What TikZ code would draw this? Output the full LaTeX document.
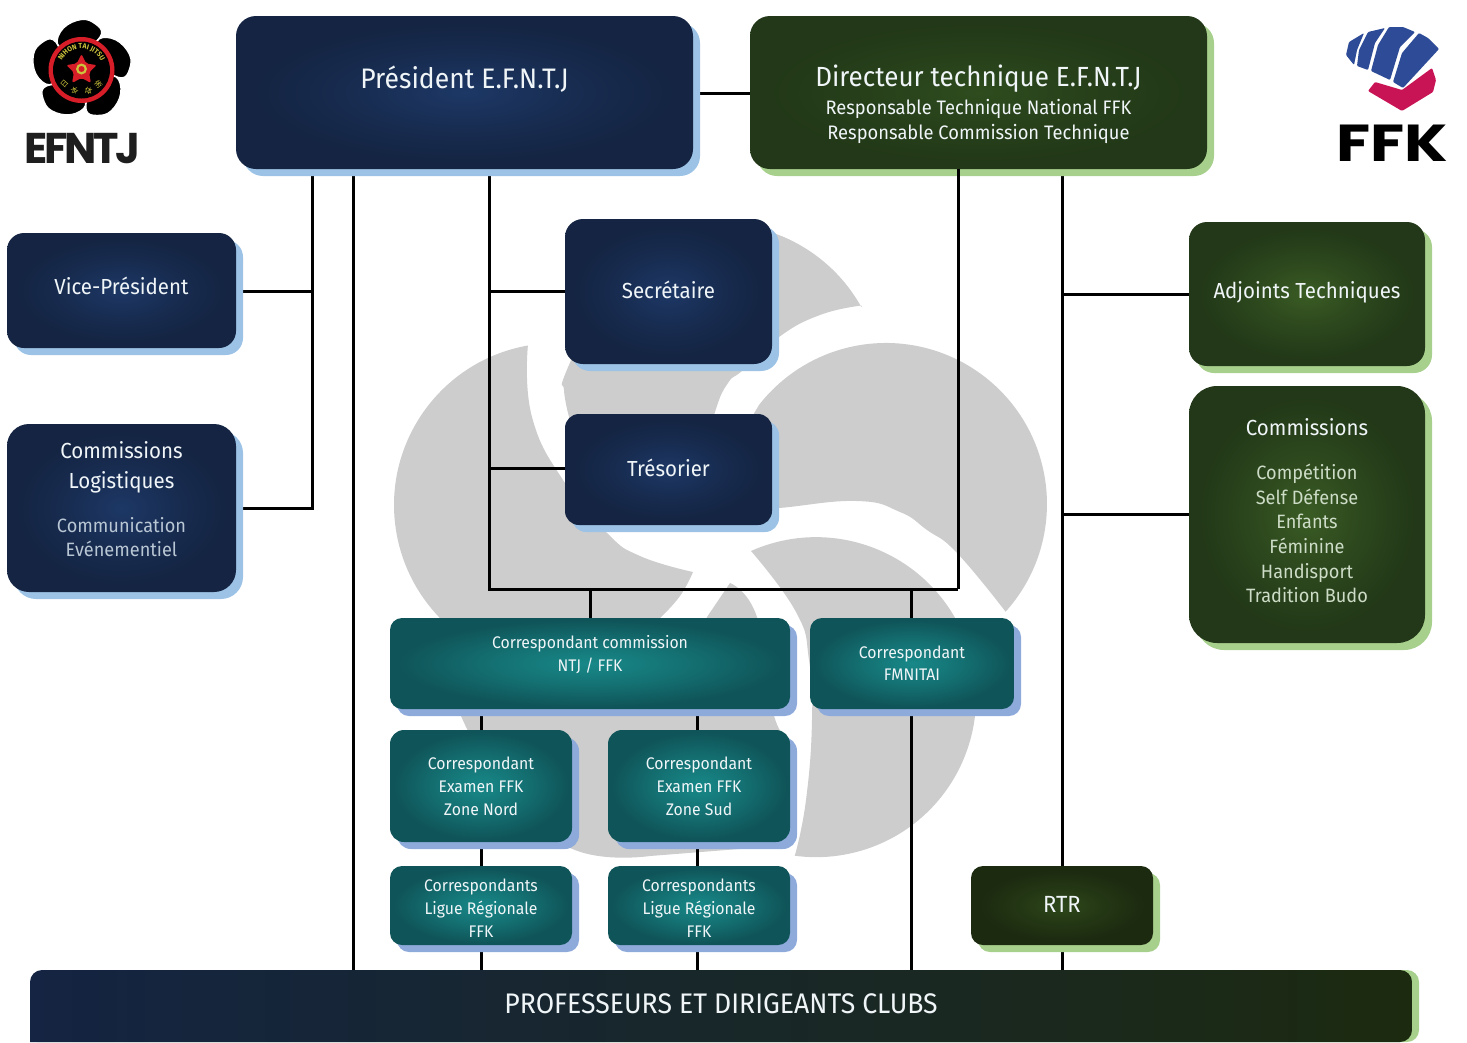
\documentclass[tikz,border=0pt]{standalone}
\usepackage{fontspec}
\setmainfont[FakeStretch=0.94]{Fira Sans}
\newfontfamily\logofont[LetterSpace=-8]{Poppins}
\newfontfamily\logobold{Poppins}
\newfontfamily\cjkfont{Noto Sans CJK SC}
\usetikzlibrary{decorations.text}
\pgfdeclarelayer{bg}
\pgfsetlayers{bg,main}
\definecolor{wm}{RGB}{205,205,205}
\definecolor{navyO}{RGB}{20,36,66}\definecolor{navyI}{RGB}{29,56,102}\definecolor{navyS}{RGB}{156,195,230}
\definecolor{greenO}{RGB}{34,56,24}\definecolor{greenI}{RGB}{58,92,36}\definecolor{greenS}{RGB}{168,208,141}
\definecolor{dirI}{RGB}{46,76,30}
\definecolor{tealO}{RGB}{15,84,88}\definecolor{tealI}{RGB}{24,136,136}\definecolor{tealS}{RGB}{142,170,219}
\definecolor{rtrO}{RGB}{28,42,16}\definecolor{rtrI}{RGB}{46,72,26}
\definecolor{txtW}{RGB}{240,245,248}
\definecolor{subN}{RGB}{185,198,212}\definecolor{subG}{RGB}{205,220,198}
\definecolor{gold}{RGB}{205,195,60}\definecolor{logored}{RGB}{215,30,40}
\definecolor{fistblue}{RGB}{45,75,150}\definecolor{fistred}{RGB}{200,20,85}
\newcommand{\fs}[2]{\fontsize{#1pt}{#2pt}\selectfont}
\colorlet{navyM}{navyI!45!navyO}
\colorlet{greenM}{greenI!45!greenO}
\colorlet{dirM}{dirI!45!greenO}
\colorlet{tealM}{tealI!55!tealO}
\colorlet{rtrM}{rtrI!45!rtrO}
\pgfdeclareradialshading{navysh}{\pgfpoint{0bp}{0bp}}{color(0bp)=(navyI); color(11bp)=(navyM); color(23bp)=(navyO); color(50bp)=(navyO)}
\pgfdeclareradialshading{greensh}{\pgfpoint{0bp}{0bp}}{color(0bp)=(greenI); color(11bp)=(greenM); color(23bp)=(greenO); color(50bp)=(greenO)}
\pgfdeclareradialshading{dirsh}{\pgfpoint{0bp}{0bp}}{color(0bp)=(dirI); color(11bp)=(dirM); color(23bp)=(greenO); color(50bp)=(greenO)}
\pgfdeclareradialshading{tealsh}{\pgfpoint{0bp}{0bp}}{color(0bp)=(tealI); color(12bp)=(tealM); color(24bp)=(tealO); color(50bp)=(tealO)}
\pgfdeclareradialshading{rtrsh}{\pgfpoint{0bp}{0bp}}{color(0bp)=(rtrI); color(11bp)=(rtrM); color(23bp)=(rtrO); color(50bp)=(rtrO)}
\tikzset{
  navybox/.style={shading=navysh},
  greenbox/.style={shading=greensh},
  dirbox/.style={shading=dirsh},
  tealbox/.style={shading=tealsh},
  rtrbox/.style={shading=rtrsh},
  lab/.style={text=txtW,align=center,inner sep=0pt},
  conn/.style={draw=black,line width=3pt,line join=miter},
  wmf/.style={fill=wm},
  sm/.style={smooth,tension=.8},
}
% name x0 y0 x1 y1 radius style shadowcolour
\newcommand{\bx}[8]{%
  \fill[#8,rounded corners=#6pt] ({#2+7},{#3+7}) rectangle ({#4+7},{#5+7});
  \pgfmathsetmacro\bw{#4-#2}\pgfmathsetmacro\bh{#5-#3}
  \node[#7,rectangle,rounded corners=#6pt,inner sep=0pt,outer sep=0pt,minimum width=\bw pt,minimum height=\bh pt] (#1) at ({(#2+#4)/2},{(#3+#5)/2}) {};
}
\begin{document}
\begin{tikzpicture}[x=1pt,y=-1pt]
\useasboundingbox (0,0) rectangle (1467,1042);

% boxes
\bx{pres}{236}{16}{693}{169}{20}{navybox}{navyS}
\bx{dir}{750}{16}{1207}{169}{20}{dirbox}{greenS}
\bx{vice}{7}{233}{236}{348}{17}{navybox}{navyS}
\bx{clog}{7}{424}{236}{592}{22}{navybox}{navyS}
\bx{sec}{565}{219}{772}{364}{18}{navybox}{navyS}
\bx{tre}{565}{414}{772}{525}{14}{navybox}{navyS}
\bx{adj}{1189}{222}{1425}{366}{18}{greenbox}{greenS}
\bx{com}{1189}{386}{1425}{643}{28}{greenbox}{greenS}
\bx{ntj}{390}{618}{790}{709}{12}{tealbox}{tealS}
\bx{fmn}{810}{618}{1014}{709}{12}{tealbox}{tealS}
\bx{nord}{390}{730}{572}{842}{14}{tealbox}{tealS}
\bx{sud}{608}{730}{790}{842}{14}{tealbox}{tealS}
\bx{lign}{390}{866}{572}{945}{12}{tealbox}{tealS}
\bx{ligs}{608}{866}{790}{945}{12}{tealbox}{tealS}
\bx{rtr}{971}{866}{1153}{945}{12}{rtrbox}{greenS}

% bottom bar
\fill[greenS,rounded corners=12pt] (37,1042) -- (37,970) -- (1419,970) -- (1419,1042) [sharp corners] -- cycle;
\shade[left color=navyO,right color=rtrO,rounded corners=12pt] (30,1042) -- (30,970) -- (1412,970) -- (1412,1042) [sharp corners] -- cycle;
\node[inner sep=0pt,outer sep=0pt,minimum width=1382pt,minimum height=72pt] (bar) at (721,1006) {};

% labels
\node[lab,font=\fs{28.2}{30}] (presT) at (pres.center |- 0,79) {Président E.F.N.T.J};
\node[lab,font=\fs{19.5}{25}] (dirT) at (dir.center |- 0,104) {{\fs{27.7}{28}Directeur technique E.F.N.T.J}\\[3pt]Responsable Technique National FFK\\Responsable Commission Technique};
\node[lab,font=\fs{21.8}{26}] (viceT) at (vice.center |- 0,286) {Vice-Président};
\node[lab,font=\fs{21.8}{30}] (clogT) at (clog.center |- 0,499) {Commissions\\Logistiques\\[14pt]{\color{subN}\fs{19.3}{24}Communication}\\[-6pt]{\color{subN}\fs{19.3}{24}Evénementiel}};
\node[lab,font=\fs{21.8}{26}] (secT) at (sec.center |- 0,290) {Secrétaire};
\node[lab,font=\fs{21.8}{26}] (treT) at (tre.center |- 0,468) {Trésorier};
\node[lab,font=\fs{21.8}{26}] (adjT) at (adj.center |- 0,292) {Adjoints Techniques};
\node[lab,font=\fs{19.3}{24.6}] (comT) at (com.center |- 0,510.5) {{\fs{21.8}{30}Commissions}\\[20pt]{\color{subG}Compétition}\\{\color{subG}Self Défense}\\{\color{subG}Enfants}\\{\color{subG}Féminine}\\{\color{subG}Handisport}\\{\color{subG}Tradition Budo}};
\node[lab,font=\fs{16.8}{23}] (ntjT) at (ntj.center |- 0,655) {Correspondant commission\\NTJ / FFK};
\node[lab,font=\fs{16.8}{22}] (fmnT) at (fmn.center |- 0,663) {Correspondant\\FMNITAI};
\node[lab,font=\fs{16.8}{23}] (nordT) at (nord.center |- 0,786) {Correspondant\\Examen FFK\\Zone Nord};
\node[lab,font=\fs{16.8}{23}] (sudT) at (sud.center |- 0,786) {Correspondant\\Examen FFK\\Zone Sud};
\node[lab,font=\fs{16.8}{23}] (lignT) at (lign.center |- 0,908) {Correspondants\\Ligue Régionale\\FFK};
\node[lab,font=\fs{16.8}{23}] (ligsT) at (ligs.center |- 0,908) {Correspondants\\Ligue Régionale\\FFK};
\node[lab,font=\fs{23.4}{26}] (rtrT) at (rtr.center |- 0,904) {RTR};
\node[lab,font=\fs{28.3}{30}] (barT) at (bar.center |- 0,1004) {PROFESSEURS ET DIRIGEANTS CLUBS};

% watermark and connectors behind the boxes
\begin{pgfonlayer}{bg}
  % top petal
  \fill[wmf] (700,225) arc[start angle=-97,end angle=-29,radius=162]
    -- plot[sm] coordinates {(861.7,305.5) (820,315) (779,337) (743,370) (728,383) (715,412) (700,470)}
    -- (590,500) -- plot[sm] coordinates {(568,413) (564,390) (566,372) (600,300)} -- cycle;
  % right petal
  \fill[wmf] (1005.6,611.7) arc[start angle=42,end angle=-142,radius=161] -- (750,420)
    -- (740,500) -- plot[sm] coordinates {(740,510) (779,508) (857,501) (900,512) (927,530) (957,553) (1005.6,611.7)} -- cycle;
  % bottom right petal
  \fill[wmf] (751,551) arc[start angle=-114,end angle=97.7,radius=160]
    -- plot[sm] coordinates {(795,855) (806,800) (812,720) (809,660) (796,612) (751,551)} -- cycle;
  % bottom left petal
  \fill[wmf] plot[sm] coordinates {(730,583) (757,617) (772,708) (790,760) (790,845)}
    -- (650,856) -- plot[sm] coordinates {(650,856) (575,850) (510,800) (461,716)}
    -- (461,700) -- (690,660) -- (707,617) -- cycle;
  % left petal
  \fill[wmf] (527.9,345.5) arc[start angle=-100,end angle=-228.7,radius=162]
    -- (470,660) -- (640,660) -- plot[sm] coordinates {(660,618) (680,596) (693,572)}
    -- plot[sm] coordinates {(693,572) (640,556) (607,533) (565,483) (532,417) (527.9,345.5)} -- cycle;

  \coordinate (tvl) at (312,291);
  \coordinate (tcl) at (312,508);
  \coordinate (tv2) at (353,500);
  \coordinate (tsl) at (489,291);
  \coordinate (ttl) at (489,468);
  \coordinate (tbl) at (489,589);
  \coordinate (tbr) at (958,589);
  \coordinate (tnj) at (590,589);
  \coordinate (tfm) at (911,589);
  \coordinate (tad) at (1062,294);
  \coordinate (tcm) at (1062,514);
  \coordinate (tn) at (481,720);
  \coordinate (ts) at (697,720);
  \draw[conn] (pres.south -| tcl) -- (tcl) -- (clog.east |- tcl);
  \draw[conn] (tvl) -- (vice.east |- tvl);
  \draw[conn] (pres.south -| tv2) -- (bar.north -| tv2);
  \draw[conn] (pres.south -| tsl) -- (tbl) -- (tbr);
  \draw[conn] (tsl) -- (sec.west |- tsl);
  \draw[conn] (ttl) -- (tre.west |- ttl);
  \draw[conn] (pres.east |- 0,93) -- (dir.west |- 0,93);
  \draw[conn] (tnj) -- (ntj.north -| tnj);
  \draw[conn] (tfm) -- (fmn.north -| tfm);
  \draw[conn] (fmn.south -| tfm) -- (bar.north -| tfm);
  \draw[conn] (ntj.south -| tn) -- (nord.north -| tn);
  \draw[conn] (ntj.south -| ts) -- (sud.north -| ts);
  \draw[conn] (nord.south -| tn) -- (lign.north -| tn);
  \draw[conn] (sud.south -| ts) -- (ligs.north -| ts);
  \draw[conn] (lign.south -| tn) -- (bar.north -| tn);
  \draw[conn] (ligs.south -| ts) -- (bar.north -| ts);
  \draw[conn] (dir.south -| tad) -- (rtr.north -| tad);
  \draw[conn] (rtr.south -| tad) -- (bar.north -| tad);
  \draw[conn] (tad) -- (adj.west |- tad);
  \draw[conn] (tcm) -- (com.west |- tcm);
\end{pgfonlayer}
% this one crosses the director's shadow
\draw[conn] (tbr |- dir.south) -- (tbr);

% EFNTJ logo
\foreach \a in {0,72,144,216,288}{
  \filldraw[fill=black,draw=white,line width=1.3pt,shift={(81.5,70)},rotate=\a] plot[smooth cycle,tension=.7] coordinates {(-24,-26) (-18,-42) (0,-50.5) (14,-46) (20,-36) (8,-24) (-10,-20)};
}
\fill[logored] (81.5,70) circle (33);
\fill[black] (81.5,70) circle (28.5);
\fill[logored,rounded corners=2pt] (81.5,54) -- (86.2,63.5) -- (96.7,65.1) -- (89.1,72.5) -- (90.9,82.9) -- (81.5,78) -- (72.1,82.9) -- (73.9,72.5) -- (66.3,65.1) -- (76.8,63.5) -- cycle;
\fill[gold] (81.5,69) circle (5.5);
\fill[logored] (81.5,69) circle (3);
\begin{scope}[shift={(81.5,70)},x=1pt,y=1pt]
  \path[decorate,decoration={text along path,text align=center,text={|\fontsize{7.2pt}{8pt}\selectfont\bfseries\color{gold}|NIHON TAI JITSU}}] (188:21.5) arc[start angle=188,end angle=-8,radius=21.5];
\end{scope}
\node[text=gold,font=\cjkfont\fontsize{7.5pt}{8pt}\selectfont,inner sep=0pt,rotate=48] (k1) at (64.5,84) {日};
\node[text=gold,font=\cjkfont\fontsize{7.5pt}{8pt}\selectfont,inner sep=0pt,rotate=18] (k2) at (74.5,91) {本};
\node[text=gold,font=\cjkfont\fontsize{7.5pt}{8pt}\selectfont,inner sep=0pt,rotate=-18] (k3) at (88.5,91) {体};
\node[text=gold,font=\cjkfont\fontsize{7.5pt}{8pt}\selectfont,inner sep=0pt,rotate=-48] (k4) at (98.5,84) {術};
\node[text={rgb,255:red,30;green,30;blue,30},font=\logofont\bfseries\fontsize{43pt}{46pt}\selectfont,inner sep=0pt] (efntj) at (82,149) {EFNTJ};

% FFK logo
\fill[fistblue,rounded corners=1pt] (1346,55) -- (1349,42) -- (1364,33) -- (1357,50) -- (1354,65) -- cycle;
\fill[fistblue,rounded corners=1pt] (1368,32) -- (1385,28) -- (1375,43) -- (1368,70) -- (1357,66) -- (1359,50) -- cycle;
\fill[fistblue,rounded corners=1pt] (1389,27) -- (1403,27) -- (1415,32) -- (1400,47) -- (1390,80) -- (1371,71) -- (1378,45) -- cycle;
\fill[fistblue,rounded corners=1pt] (1419,33) -- (1428,38) -- (1439,49) -- (1403,88) -- (1393,82) -- (1402,53) -- cycle;
\fill[fistred,rounded corners=1pt] (1368,91) -- (1375,82) -- (1402,90) -- (1432,68) -- (1436,80) -- (1433,92) -- (1402,111) -- cycle;
\node[text=black,inner sep=0pt,font=\logobold\bfseries\fontsize{52pt}{54pt}\selectfont] (ffk) at (1392,143) {\scalebox{1.2}[1]{FFK}};
\end{tikzpicture}
\end{document}
